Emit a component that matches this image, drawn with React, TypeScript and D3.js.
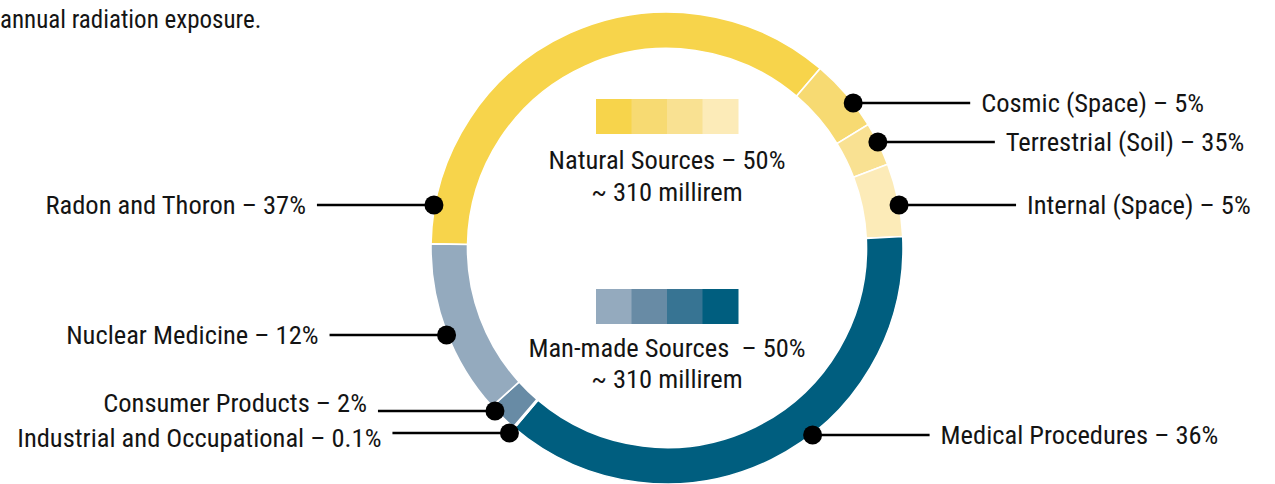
import React from "react";
import * as d3 from "d3";

// ---- data ----
const segmentNames = [
  "Radon and Thoron",
  "Cosmic (Space)",
  "Terrestrial (Soil)",
  "Internal (Space)",
  "Medical Procedures",
  "Industrial and Occupational",
  "Consumer Products",
  "Nuclear Medicine",
];
const labelPercents = ["37%", "5%", "35%", "5%", "36%", "0.1%", "2%", "12%"];
// share of the ring drawn for each segment
const ringShares = [36, 5, 3, 5, 37, 0.1, 2, 12];

const naturalTitle = "Natural Sources – 50%";
const manmadeTitle = "Man-made Sources  – 50%";
const doseText = "~ 310 millirem";
const headerText = "annual radiation exposure.";

// ---- styles / layout ----
const segmentColors = ["#F7D44B", "#F7DA72", "#F9E192", "#FCEBB8", "#005E7F", "#377493", "#688BA5", "#94AABE"];
const naturalSwatches = ["#F7D44B", "#F7DA72", "#F9E192", "#FCEBB8"];
const manmadeSwatches = ["#94AABE", "#688BA5", "#377493", "#005E7F"];
// callout layout: dot row (y), dot radius from centre, text row, side
const labelY = [205, 103, 142, 205, 435, 433, 411, 335];
const labelR = [237, 236, 236, 236, 237, 243, 237, 237];
const labelTextY = [205, 103, 142, 205, 435, 438, 403, 335];
const labelSide = ["left", "right", "right", "right", "right", "left", "left", "left"];

const W = 1275;
const H = 484;
const cx = 667;
const cy = 248;
const rOuter = 236;
const rInner = 199.5;
const FONT = "'Liberation Sans Narrow', 'Arial Narrow', 'Roboto Condensed', 'DejaVu Sans Condensed', sans-serif";
const TEXT = "#141414";
const FS = 26.5;

export default function App() {
  const pie = d3
    .pie<number>()
    .sort(null)
    .value((d) => d)
    .startAngle((-89 * Math.PI) / 180)
    .endAngle((271 * Math.PI) / 180);
  const arcs = pie(ringShares);
  const arcGen = d3.arc<d3.PieArcDatum<number>>().innerRadius(rInner).outerRadius(rOuter);

  const swatchX = d3.scaleBand<number>().domain([0, 1, 2, 3]).range([596, 738]).padding(0);

  const lineLen = 117;
  const gap = 11;

  return (
    <svg width={W} height={H} style={{ position: "absolute", left: 0, top: 0 }} fontFamily={FONT}>
      <text x={0} y={28} fontSize={25} fill={TEXT}>
        {headerText}
      </text>
      <g transform={`translate(${cx},${cy})`}>
        {arcs.map((a, i) => (
          <path key={i} d={arcGen(a) || ""} fill={segmentColors[i]} stroke="#fff" strokeWidth={1.6} />
        ))}
      </g>
      {/* legend swatches */}
      {naturalSwatches.map((c, i) => (
        <rect key={"n" + i} x={swatchX(i)} y={99} width={swatchX.bandwidth() + 0.5} height={35} fill={c} />
      ))}
      {manmadeSwatches.map((c, i) => (
        <rect key={"m" + i} x={swatchX(i)} y={289} width={swatchX.bandwidth() + 0.5} height={35} fill={c} />
      ))}
      <text x={cx} y={169} textAnchor="middle" fontSize={FS} fill={TEXT}>
        {naturalTitle}
      </text>
      <text x={cx} y={201} textAnchor="middle" fontSize={FS} fill={TEXT}>
        {doseText}
      </text>
      <text x={cx} y={357} textAnchor="middle" fontSize={FS} fill={TEXT} style={{ whiteSpace: "pre" }}>
        {manmadeTitle}
      </text>
      <text x={cx} y={388} textAnchor="middle" fontSize={FS} fill={TEXT}>
        {doseText}
      </text>
      {/* callouts */}
      {segmentNames.map((name, i) => {
        const y = labelY[i];
        const dy = y - cy;
        const r = labelR[i];
        const dx = Math.sqrt(Math.max(0, r * r - dy * dy));
        const left = labelSide[i] === "left";
        const x = left ? cx - dx : cx + dx;
        const x2 = left ? x - lineLen : x + lineLen;
        const tx = left ? x2 - gap : x2 + gap;
        return (
          <g key={"l" + i}>
            <line x1={x} y1={y} x2={x2} y2={y} stroke="#000" strokeWidth={2.4} />
            <circle cx={x} cy={y} r={9.5} fill="#000" />
            <text
              x={tx}
              y={labelTextY[i]}
              dy="0.35em"
              textAnchor={left ? "end" : "start"}
              fontSize={FS}
              fill={TEXT}
            >
              {`${name} – ${labelPercents[i]}`}
            </text>
          </g>
        );
      })}
    </svg>
  );
}
